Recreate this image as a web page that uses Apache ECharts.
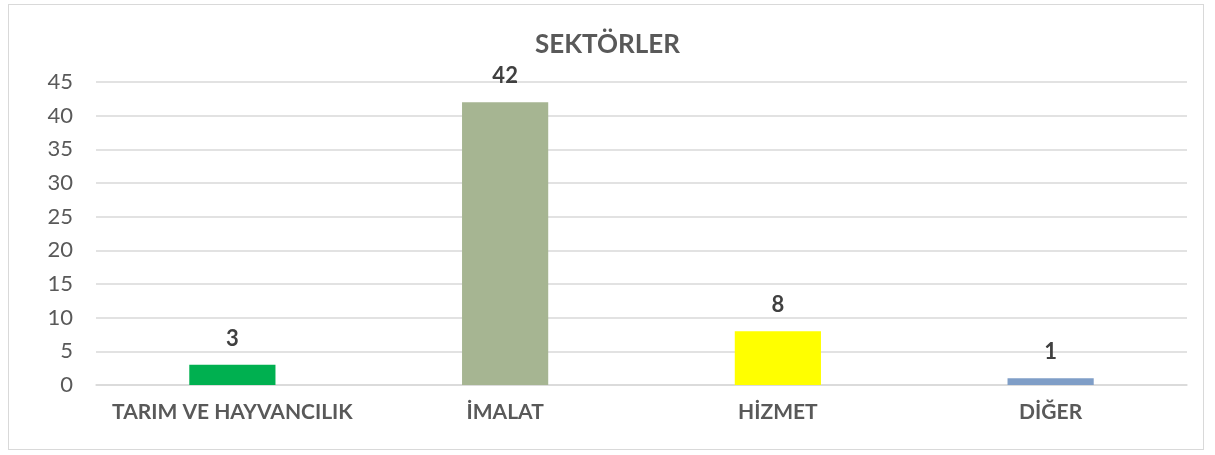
<!DOCTYPE html>
<html>
<head>
<meta charset="utf-8">
<script src="https://cdn.jsdelivr.net/npm/echarts@6/dist/echarts.min.js"></script>
<style>
  html, body { margin: 0; padding: 0; background: #fff; }
  #frame { position: absolute; left: 8px; top: 4px; width: 1196px; height: 446px; border: 1px solid #d9d9d9; box-sizing: border-box; }
  #chart { position: absolute; left: 0; top: 0; width: 1215px; height: 455px; }
</style>
</head>
<body>
<div id="frame"></div>
<div id="chart"></div>
<script>
const categories = ["TARIM VE HAYVANCILIK", "İMALAT", "HİZMET", "DİĞER"];
const values = [3, 42, 8, 1];
const barColors = ["#00B050", "#A6B592", "#FFFF00", "#7F9EC7"];

const chart = echarts.init(document.getElementById("chart"));
chart.setOption({
  animation: false,
  textStyle: { fontFamily: "Lato" },
  title: {
    text: "SEKTÖRLER",
    left: "center",
    top: 27,
    textStyle: { fontSize: 26, fontWeight: "bold", color: "#595959", fontFamily: "Lato" }
  },
  grid: { left: 96, right: 28, top: 82, bottom: 70 },
  xAxis: {
    type: "category",
    data: categories,
    axisTick: { show: false },
    axisLine: { lineStyle: { color: "#d9d9d9", width: 1.5 } },
    axisLabel: { interval: 0, margin: 17, fontSize: 21, fontWeight: "bold", color: "#595959" }
  },
  yAxis: {
    type: "value",
    min: 0,
    max: 45,
    interval: 5,
    axisLine: { show: false },
    axisTick: { show: false },
    axisLabel: { margin: 23, fontSize: 22, color: "#595959" },
    splitLine: { lineStyle: { color: "#d9d9d9", width: 1.5 } }
  },
  series: [{
    type: "bar",
    barWidth: "31.6%",
    data: values.map((v, i) => ({ value: v, itemStyle: { color: barColors[i] } })),
    label: {
      show: true,
      position: "top",
      distance: 15,
      fontSize: 22,
      fontWeight: "bold",
      color: "#404040"
    }
  }]
});
</script>
</body>
</html>
